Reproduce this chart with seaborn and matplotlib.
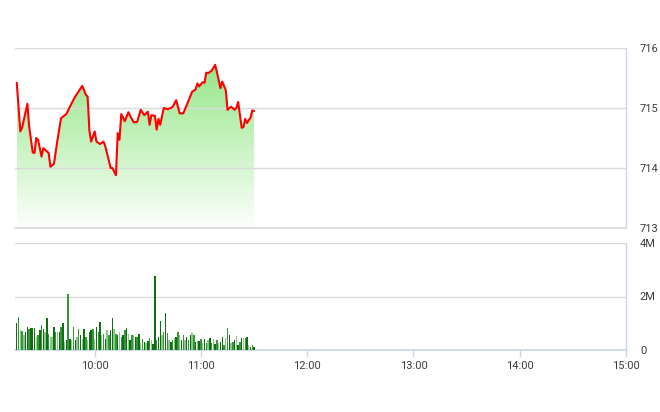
import matplotlib
matplotlib.use("Agg")
import matplotlib.pyplot as plt
import matplotlib.dates as mdates
import numpy as np
import pandas as pd
import seaborn as sns

# ---------------- data ----------------
price_times = ["09:16","09:18","09:19","09:22","09:23","09:25","09:26","09:27","09:28","09:30",
               "09:31","09:34","09:35","09:37","09:39","09:41","09:44","09:47","09:49","09:53",
               "09:55","09:56","09:57","09:58","10:00","10:01","10:03","10:05","10:06","10:09",
               "10:10","10:12","10:13","10:14","10:15","10:17","10:19","10:22","10:24","10:26",
               "10:28","10:30","10:31","10:32","10:34","10:35","10:36","10:37","10:39","10:41",
               "10:43","10:44","10:46","10:48","10:50","10:52","10:55","10:57","10:58","10:59",
               "11:01","11:02","11:03","11:04","11:06","11:08","11:09","11:11","11:12","11:14",
               "11:15","11:17","11:19","11:20","11:21","11:23","11:24","11:25","11:26","11:28",
               "11:29","11:30"]
price_values = [715.42,714.61,714.67,715.07,714.69,714.26,714.25,714.50,714.47,714.19,
                714.33,714.25,714.02,714.07,714.47,714.83,714.90,715.08,715.19,715.37,
                715.22,715.19,714.63,714.44,714.61,714.44,714.40,714.44,714.36,714.00,
                714.00,713.88,714.58,714.47,714.90,714.78,714.93,714.76,714.77,714.97,
                714.88,714.94,714.72,714.88,714.87,714.64,714.82,714.72,715.00,714.98,
                715.00,715.02,715.13,714.91,714.91,715.05,715.27,715.31,715.41,715.36,
                715.43,715.42,715.59,715.58,715.62,715.72,715.60,715.33,715.44,715.30,
                714.97,715.02,714.97,715.00,715.10,714.67,714.68,714.82,714.75,714.84,
                714.96,714.95]

volume_start = "09:16"          # one bar per minute from here
volume_millions = [
    1.0,1.22,0.74,0.7,0.55,0.68,0.87,0.8,0.83,0.83,
    0.83,0.48,0.55,0.74,0.93,0.8,0.68,1.18,0.61,0.48,
    0.48,0.87,0.68,0.68,0.68,0.87,1.0,0.3,0.36,2.1,
    0.42,0.36,0.87,0.36,0.48,0.8,0.55,0.42,0.8,0.48,
    0.36,0.68,0.74,0.8,0.42,0.87,0.68,1.06,0.55,0.61,
    0.42,0.74,0.57,0.74,1.18,0.8,0.61,0.55,0.68,0.48,
    0.55,0.74,0.83,0.61,0.36,0.55,0.55,0.48,
    0.5,0.6,0.28,0.4,0.31,0.25,0.35,0.44,0.37,0.22,
    2.78,
    0.37,0.5,1.1,0.56,0.69,1.37,0.65,0.37,0.31,0.37,
    0.44,0.5,0.69,0.56,0.37,0.56,0.37,0.5,0.37,0.56,
    0.62,0.56,0.31,0.35,0.35,0.4,0.25,0.4,0.25,0.37,
    0.44,0.25,0.4,0.22,0.37,0.25,0.31,0.5,0.19,0.44,
    0.81,0.56,0.25,0.31,0.37,0.52,0.19,0.31,0.44,0.44,
    0.46,0.47,0.19,0.12,0.19,0.1]
volume_tone = ("DMLMLDDMDD" "DLMDMDLDML" "LDMLDMDLDM" "DLMDLMDLDM" "LDDMLDMDLM"
               "DLMDDLMDLM" "DMDLDMLD" "MDLMDLDMLD" "D"
               "MDDLMDMLDM" "LDMLDMLDMD" "LMDLDMLDML" "DMLDMLDDML" "MDLMDLDMDL" "MDLDMD")

price_ticks = [713, 714, 715, 716]
volume_ticks = [0, 2, 4]
volume_tick_labels = ["0", "2M", "4M"]
time_ticks = ["10:00", "11:00", "12:00", "13:00", "14:00", "15:00"]
session = ("09:15", "15:00")

# ---------------- style ----------------
sns.set_theme(style="white")
plt.rcParams['font.family'] = ['Roboto', 'DejaVu Sans']

GRID = "#dadada"
AXIS = "#ccd6eb"
TXT = "#3c3c3c"
tone_colors = {"D": "#0f6e0f", "M": "#35963a", "L": "#86cc86"}

day = "2024-01-02 "
to_dt = lambda t: pd.Timestamp(day + t)

df = pd.DataFrame({"time": [to_dt(t) for t in price_times], "price": price_values})
n = min(len(volume_millions), len(volume_tone))
vdf = pd.DataFrame({
    "time": pd.date_range(to_dt(volume_start), periods=n, freq="min"),
    "volume": np.array(volume_millions[:n]),
    "tone": list(volume_tone[:n]),
})

W, H = 660, 412
fig = plt.figure(figsize=(W / 100, H / 100), dpi=100)
fig.patch.set_facecolor("white")
ax1 = fig.add_axes([15 / W, 1 - 228 / H, 611 / W, 180 / H])
ax2 = fig.add_axes([15 / W, 1 - 350 / H, 611 / W, 107 / H])

pmin, pmax = price_ticks[0], price_ticks[-1]

# gradient area under price line
poly = ax1.fill_between(df["time"], df["price"], pmin, color="none", lw=0)
g = np.linspace(0, 1, 256)[:, None, None]
top_c = np.array([140, 228, 124]) / 255
bot_c = np.array([252, 255, 252]) / 255
img = top_c * (1 - g) + bot_c * g
xs = mdates.date2num(df["time"])
im = ax1.imshow(img, extent=[xs[0], xs[-1], pmin, pmax], aspect="auto",
                origin="upper", zorder=1, interpolation="bilinear")
im.set_clip_path(poly.get_paths()[0], transform=ax1.transData)

sns.lineplot(data=df, x="time", y="price", color="#ff0000", lw=1.5, ax=ax1, zorder=4)

# volume bars
ax2.bar(vdf["time"], vdf["volume"], width=0.8 / 1440,
        color=[tone_colors[t] for t in vdf["tone"]], lw=0, zorder=3)

x0, x1 = to_dt(session[0]), to_dt(session[1])
for ax in (ax1, ax2):
    ax.set_xlim(x0, x1)
    ax.set_facecolor("white")
    ax.grid(True, axis="y", color=GRID, lw=1)
    ax.grid(False, axis="x")
    ax.yaxis.tick_right()
    ax.tick_params(axis="y", length=0, pad=10, labelsize=8, labelcolor=TXT)
    for s in ("top", "left"):
        ax.spines[s].set_visible(False)
    ax.spines["right"].set_color(AXIS)
    ax.spines["right"].set_linewidth(1)
    ax.set_xlabel("")
    ax.set_ylabel("")

ax1.set_axisbelow(False)
ax1.set_ylim(pmin, pmax)
ax1.set_yticks(price_ticks)
ax1.set_yticklabels([str(v) for v in price_ticks])
ax1.spines["bottom"].set_color(GRID)
ax1.set_xticks([])
for lab in ax1.get_yticklabels():
    lab.set_horizontalalignment("left")

ax2.set_axisbelow(True)
ax2.set_ylim(volume_ticks[0], volume_ticks[-1])
ax2.set_yticks(volume_ticks)
ax2.set_yticklabels(volume_tick_labels)
for lab in ax2.get_yticklabels():
    lab.set_horizontalalignment("left")
ax2.spines["bottom"].set_color(AXIS)
ax2.set_xticks([to_dt(t) for t in time_ticks])
ax2.set_xticklabels(time_ticks)
ax2.tick_params(axis="x", length=5, width=1, color=AXIS, direction="out",
                pad=3, labelsize=8, labelcolor=TXT, bottom=True)

fig.savefig("out.png", dpi=100, facecolor="white")
